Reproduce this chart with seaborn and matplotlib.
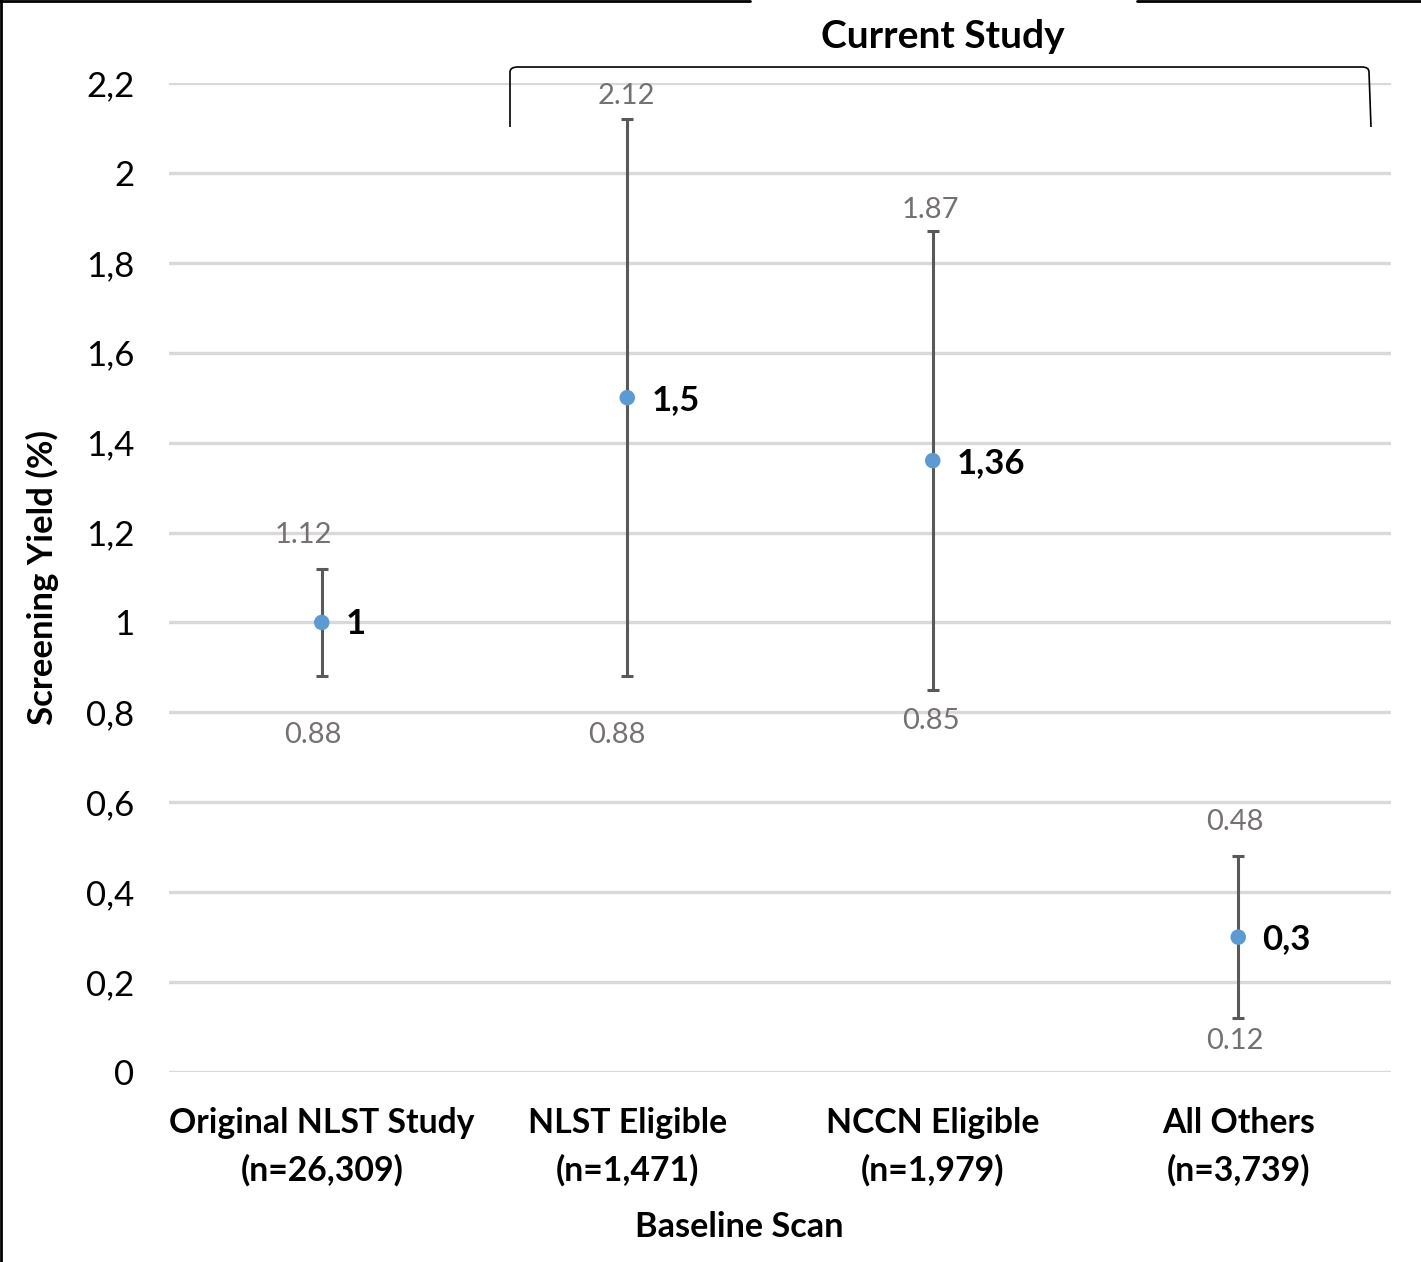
import matplotlib
matplotlib.use("Agg")
import matplotlib.pyplot as plt
import seaborn as sns
import pandas as pd
from matplotlib.lines import Line2D
from matplotlib.path import Path
from matplotlib.patches import PathPatch

# ---- data ----
categories = ["Original NLST Study\n(n=26,309)", "NLST Eligible\n(n=1,471)",
              "NCCN Eligible\n(n=1,979)", "All Others\n(n=3,739)"]
yield_values = [1.0, 1.5, 1.36, 0.3]
value_labels = ["1", "1,5", "1,36", "0,3"]
upper_ci = [1.12, 2.12, 1.87, 0.48]
lower_ci = [0.88, 0.88, 0.85, 0.12]
upper_labels = ["1.12", "2.12", "1.87", "0.48"]
lower_labels = ["0.88", "0.88", "0.85", "0.12"]
y_ticks = [0, 0.2, 0.4, 0.6, 0.8, 1.0, 1.2, 1.4, 1.6, 1.8, 2.0, 2.2]

# label placement (pixels)
upper_dy = [34, 23, 21, 34]
upper_dx = [-18, -1, -2, -3]
lower_dy = [59, 59, 31, 23]
lower_dx = [-9, -10, -2, -3]

sns.set_theme(style="white")
FONT = "Lato"
plt.rcParams['font.family'] = [FONT, 'DejaVu Sans']
plt.rcParams['text.color'] = 'black'
plt.rcParams['axes.labelcolor'] = 'black'
plt.rcParams['xtick.color'] = 'black'
plt.rcParams['ytick.color'] = 'black'

DPI = 100
fig = plt.figure(figsize=(14.21, 12.62), dpi=DPI)
ax = fig.add_axes([169/1421, 1-1072/1262, (1391-169)/1421, (1072-83)/1262])

df = pd.DataFrame({"x": range(len(categories)), "y": yield_values})
ax.errorbar(df["x"], df["y"],
            yerr=[[v - l for v, l in zip(yield_values, lower_ci)],
                  [u - v for v, u in zip(yield_values, upper_ci)]],
            fmt="none", ecolor="#595959", elinewidth=2.2, capsize=4.5, capthick=2.2, zorder=3)
sns.scatterplot(data=df, x="x", y="y", ax=ax, color="#5B9BD5", s=125, edgecolor="none", zorder=4, legend=False)

ax.set_xlim(-0.5, 3.5)
ax.set_ylim(0, 2.2)
ax.set_yticks(y_ticks)
ax.set_yticklabels([f"{v:g}".replace(".", ",") for v in y_ticks])
ax.set_xticks(range(len(categories)))
ax.set_xticklabels(categories, fontweight="bold", fontsize=24.3, linespacing=1.56)
ax.tick_params(axis="y", length=0, pad=25, labelsize=25, labelcolor="black")
ax.tick_params(axis="x", length=0, pad=25, labelcolor="black")
ax.grid(axis="y", color="#D9D9D9", linewidth=2.4)
ax.set_axisbelow(True)
for s in ax.spines.values():
    s.set_visible(False)

ax.set_ylabel("Screening Yield (%)", fontsize=25, fontweight="bold")
ax.yaxis.set_label_coords(-(169-42)/1222, 0.5, transform=ax.transAxes)
ax.yaxis.label.set_va("center")
ax.set_xlabel("Baseline Scan", fontsize=24.7, fontweight="bold")
ax.xaxis.set_label_coords((739-169)/1222, -(1227-1072)/989, transform=ax.transAxes)
ax.xaxis.label.set_va("center")

px = 72 / DPI  # points per pixel
for i in range(len(categories)):
    ax.annotate(value_labels[i], (i, yield_values[i]), xytext=(24*px, -2*px),
                textcoords="offset points", ha="left", va="center",
                fontsize=25, fontweight="bold", color="black")
    ax.annotate(upper_labels[i], (i, upper_ci[i]), xytext=(upper_dx[i]*px, upper_dy[i]*px),
                textcoords="offset points", ha="center", va="center",
                fontsize=21, color="#767171")
    ax.annotate(lower_labels[i], (i, lower_ci[i]), xytext=(lower_dx[i]*px, -lower_dy[i]*px),
                textcoords="offset points", ha="center", va="center",
                fontsize=21, color="#767171")

# bracket over "Current Study" groups (in pixel coordinates of the figure)
H = 1262
def fy(p):
    return (H - p) / H
def fx(p):
    return p / 1421
verts = [(fx(510), fy(127)), (fx(510), fy(72)), (fx(510), fy(67)), (fx(518), fy(67)),
         (fx(1362), fy(67)), (fx(1369), fy(67)), (fx(1369), fy(72)), (fx(1371), fy(127))]
codes = [Path.MOVETO, Path.LINETO, Path.CURVE3, Path.CURVE3,
         Path.LINETO, Path.CURVE3, Path.CURVE3, Path.LINETO]
fig.patches.append(PathPatch(Path(verts, codes), transform=fig.transFigure,
                             fill=False, edgecolor="black", linewidth=1.2))
fig.text(fx(943), fy(37), "Current Study", ha="center", va="center",
         fontsize=28, fontweight="bold", color="black")

# partial frame lines
for xs, ys in [((0, fx(750)), (fy(0.5), fy(0.5))),
               ((fx(1137), 1), (fy(0.5), fy(0.5))),
               ((fx(1), fx(1)), (0, 1))]:
    fig.add_artist(Line2D(xs, ys, transform=fig.transFigure, color="black", linewidth=2))

fig.savefig("out.png", dpi=DPI)
